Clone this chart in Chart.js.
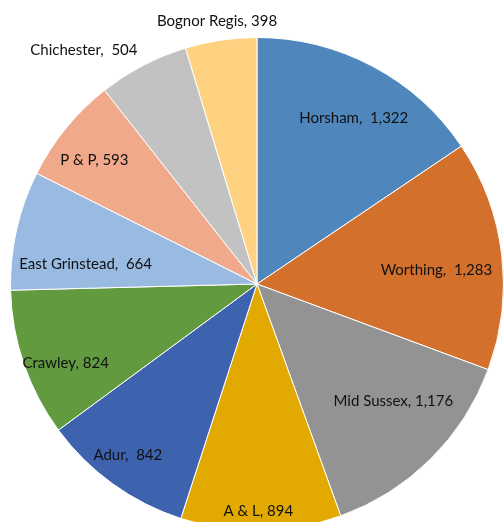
<!DOCTYPE html>
<html>
<head>
<meta charset="utf-8">
<script src="https://cdn.jsdelivr.net/npm/chart.js@4"></script>
<style>
  html, body { margin: 0; padding: 0; background: #fff; overflow: hidden; }
  #wrap { position: absolute; left: 0; top: 0; width: 504px; height: 531px; }
</style>
</head>
<body>
<div id="wrap"><canvas id="pieChart" width="504" height="531"></canvas></div>
<script>
const areas = ["Horsham", "Worthing", "Mid Sussex", "A & L", "Adur", "Crawley",
  "East Grinstead", "P & P", "Chichester", "Bognor Regis"];
const counts = [1322, 1283, 1176, 894, 842, 824, 664, 593, 504, 398];
const sliceColors = ["#4F87BC", "#D3702C", "#939393", "#E2A900", "#3D62AE",
  "#629A3F", "#99BAE1", "#F0A98A", "#C2C2C2", "#FED281"];

// label placement: [fraction of radius, angle shift in degrees]
const labelPlace = [
  [0.78, 2.2], [0.73, 2.3], [0.73, -4.5], [0.92, 0.6], [0.87, 1.2],
  [0.84, -3.6], [0.70, -6.0], [0.83, -1.9], [1.18, -9.0], [1.08, -0.2]
];
const labelSep = [",  ", ",  ", ", ", ", ", ",  ", ", ", ",  ", ", ", ",  ", ", "];

const fmt = n => n.toLocaleString("en-GB");

const pieLabels = {
  id: "pieLabels",
  afterDraw(chart) {
    const c = chart.ctx;
    const arcs = chart.getDatasetMeta(0).data;
    c.save();
    c.font = "15px Lato, 'Open Sans', sans-serif";
    c.fillStyle = "#111";
    c.textAlign = "center";
    c.textBaseline = "middle";
    arcs.forEach((arc, i) => {
      const p = arc.getProps(["x", "y", "startAngle", "endAngle", "outerRadius"], true);
      const mid = (p.startAngle + p.endAngle) / 2 + labelPlace[i][1] * Math.PI / 180;
      const r = p.outerRadius * labelPlace[i][0];
      c.fillText(areas[i] + labelSep[i] + fmt(counts[i]), p.x + r * Math.cos(mid), p.y + r * Math.sin(mid));
    });
    c.restore();
  }
};

new Chart(document.getElementById("pieChart"), {
  type: "pie",
  data: {
    labels: areas,
    datasets: [{
      data: counts,
      backgroundColor: sliceColors,
      borderColor: "#ffffff",
      borderWidth: 1
    }]
  },
  options: {
    responsive: false,
    animation: false,
    layout: { padding: { left: 10, right: 0, top: 37, bottom: 0 } },
    plugins: {
      legend: { display: false },
      tooltip: { enabled: false }
    }
  },
  plugins: [pieLabels]
});
</script>
</body>
</html>
